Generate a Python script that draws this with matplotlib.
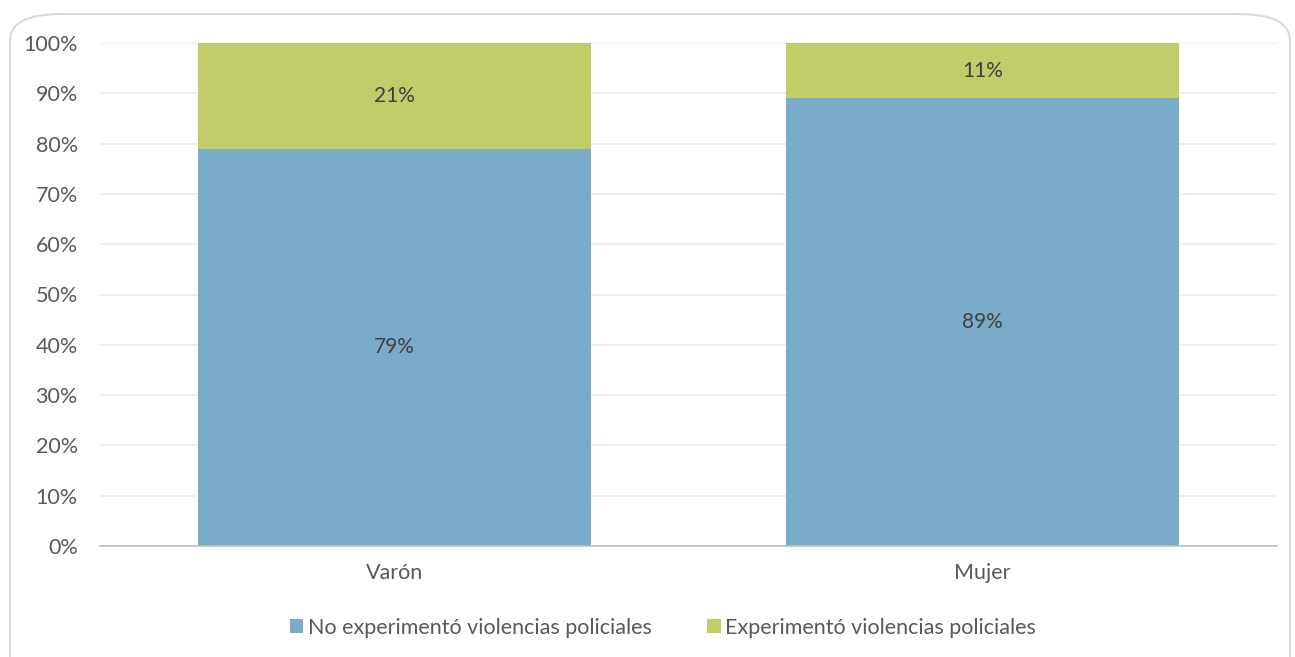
import matplotlib.pyplot as plt
from matplotlib.patches import FancyBboxPatch
from matplotlib.ticker import PercentFormatter

plt.rcParams['font.family'] = ['Lato', 'DejaVu Sans']

categories = ['Varón', 'Mujer']
no_exp = [79, 89]
exp = [21, 11]
series_names = ['No experimentó violencias policiales', 'Experimentó violencias policiales']

blue = '#7aabc9'
green = '#c2cd6a'
text_col = '#595959'

fig = plt.figure(figsize=(12.95, 6.57), dpi=100)
# rounded outer frame
frame = FancyBboxPatch((10 / 1295, -0.1), 1280 / 1295, 1.0 - 14 / 657 + 0.1,
                       boxstyle='round,pad=0,rounding_size=0.04',
                       transform=fig.transFigure, facecolor='none',
                       edgecolor='#d9d9d9', linewidth=1.5, zorder=-1)
fig.patches.append(frame)

ax = fig.add_axes([100 / 1295, 1 - 546 / 657, 1177 / 1295, 503 / 657])
ax.set_facecolor('none')
x = range(len(categories))
b1 = ax.bar(x, no_exp, width=0.667, color=blue, label=series_names[0], zorder=2)
b2 = ax.bar(x, exp, width=0.667, bottom=no_exp, color=green, label=series_names[1], zorder=2)

for bars, vals, bottoms in [(b1, no_exp, [0, 0]), (b2, exp, no_exp)]:
    for bar, v, b in zip(bars, vals, bottoms):
        ax.text(bar.get_x() + bar.get_width() / 2, b + v / 2, f'{v}%',
                ha='center', va='center', fontsize=15, color='#404040', zorder=3)

ax.set_xlim(-0.5, 1.5)
ax.set_ylim(0, 100)
ax.set_yticks(range(0, 101, 10))
ax.yaxis.set_major_formatter(PercentFormatter(decimals=0))
ax.set_xticks(list(x))
ax.set_xticklabels(categories)
ax.grid(axis='y', color='#ebebeb', linewidth=1.2, zorder=0)
for s in ['top', 'right', 'left']:
    ax.spines[s].set_visible(False)
ax.spines['bottom'].set_color('#bfbfbf')
ax.spines['bottom'].set_linewidth(1.2)
ax.tick_params(axis='both', length=0, labelsize=15.5, labelcolor=text_col)
ax.tick_params(axis='x', pad=12)
ax.tick_params(axis='y', pad=16)

leg = fig.legend(loc='center', bbox_to_anchor=(663 / 1295, 1 - 628 / 657), ncol=2,
                 frameon=False, fontsize=15.5, handlelength=0.62, handleheight=0.62,
                 handletextpad=0.2, columnspacing=2.6)
for t in leg.get_texts():
    t.set_color(text_col)

fig.savefig('out.png', dpi=100)
